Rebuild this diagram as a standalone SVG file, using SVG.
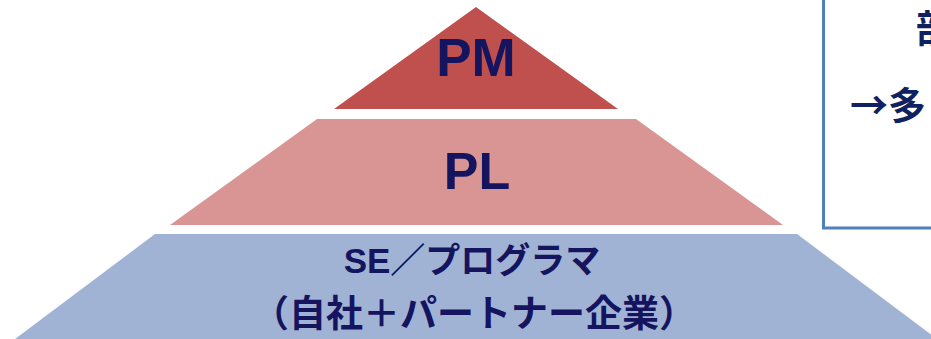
<svg xmlns="http://www.w3.org/2000/svg" width="931" height="339" viewBox="0 0 931 339">
<style>
.lbl{font-family:"Liberation Sans","Noto Sans CJK JP",sans-serif;font-weight:bold;fill:#14145f;text-anchor:middle}
.jp{font-family:"Liberation Sans","Noto Sans CJK JP",sans-serif;font-weight:bold;fill:#14145f;text-anchor:middle}
.note{font-family:"Noto Sans CJK JP",sans-serif;font-weight:bold;fill:#0f2160;font-size:38px}
</style>
<rect width="931" height="339" fill="#ffffff"/>
<g id="pm">
<polygon points="476,7 618,109 334,109" fill="#c0504d"/>
<text class="lbl" x="476" y="76" font-size="53">PM</text>
</g>
<g id="pl">
<polygon points="317,119 636,119 783,225 170,225" fill="#d99594"/>
<text class="lbl" x="477" y="189" font-size="52">PL</text>
</g>
<g id="se">
<polygon points="155,234 797,234 937,339 15,339" fill="#a1b3d4"/>
<text class="jp" x="472" y="273" font-size="35">SE／プログラマ</text>
<text class="jp" x="474" y="327" font-size="37">（自社＋パートナー企業）</text>
</g>
<g id="notebox">
<rect x="823.5" y="-10" width="130" height="238" fill="#ffffff" stroke="#4f81bd" stroke-width="3"/>
<text class="note" x="916" y="42">部</text>
<text class="note" x="850" y="119">→多</text>
</g>
</svg>
